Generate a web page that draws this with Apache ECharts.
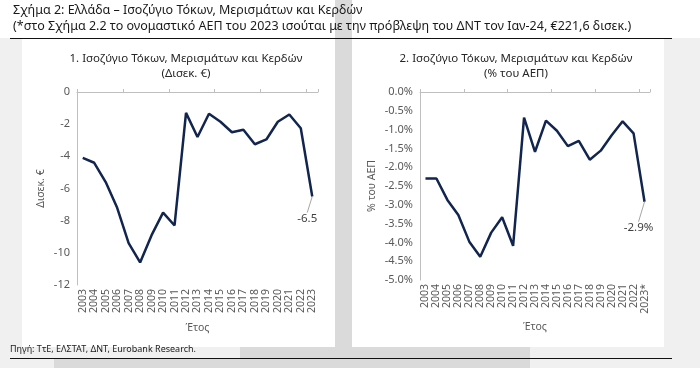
<!DOCTYPE html>
<html><head><meta charset="utf-8">
<script src="https://cdn.jsdelivr.net/npm/echarts@6/dist/echarts.min.js"></script>
<style>html,body{margin:0;padding:0;background:#f0f0f0}#c{width:700px;height:368px}</style>
</head><body><div id="c"></div>
<script>
const years = ['2003','2004','2005','2006','2007','2008','2009','2010','2011','2012','2013','2014','2015','2016','2017','2018','2019','2020','2021','2022','2023'];
const yearsPct = ['2003','2004','2005','2006','2007','2008','2009','2010','2011','2012','2013','2014','2015','2016','2017','2018','2019','2020','2021','2022','2023*'];
const balanceBn = [-4.1,-4.4,-5.6,-7.2,-9.4,-10.6,-8.9,-7.5,-8.3,-1.3,-2.8,-1.35,-1.85,-2.5,-2.35,-3.25,-2.95,-1.85,-1.4,-2.25,-6.5];
const balancePct = [-2.3,-2.3,-2.87,-3.27,-3.98,-4.38,-3.74,-3.33,-4.09,-0.68,-1.59,-0.76,-1.03,-1.44,-1.3,-1.8,-1.56,-1.15,-0.78,-1.1,-2.92];
const yTicksBn = {min:-12, max:0, interval:2};
const yTicksPct = {min:-5, max:0, interval:0.5};

const FONT = '"Noto Sans", sans-serif';
const NAVY = '#12254f';
const chart = echarts.init(document.getElementById('c'), null, {renderer:'canvas'});

function lastLabel(arr, text){
  return arr.map((v,i)=> i===arr.length-1 ? {value:v, label:{show:true, formatter:text}} : v);
}
function catAxes(gi, data){
  return [
    {type:'category', gridIndex:gi, position:'top', data:data, boundaryGap:true,
     axisLine:{show:true, lineStyle:{color:'#bfbfbf', width:1}},
     axisTick:{show:true, length:3, lineStyle:{color:'#bfbfbf'}},
     axisLabel:{show:false}, splitLine:{show:false}},
    {type:'category', gridIndex:gi, position:'bottom', data:data, boundaryGap:true,
     axisLine:{show:false}, axisTick:{show:false},
     axisLabel:{show:true, rotate:90, interval:0, margin:4, fontFamily:FONT, fontSize:10.5, color:'#595959'},
     name:'Έτος', nameLocation:'middle', nameGap:38,
     nameTextStyle:{fontFamily:FONT, fontSize:10.5, color:'#595959'}}
  ];
}
chart.setOption({
  animation:false,
  backgroundColor:'#f0f0f0',
  graphic:[
    {type:'rect', z:-10, shape:{x:0,y:0,width:700,height:38}, style:{fill:'#ffffff'}},
    {type:'rect', z:-10, shape:{x:22,y:38,width:313,height:309}, style:{fill:'#ffffff'}},
    {type:'rect', z:-10, shape:{x:352,y:38,width:312,height:309}, style:{fill:'#ffffff'}},
    {type:'rect', z:-10, shape:{x:335,y:0,width:17,height:358}, style:{fill:'#dadada'}},
    {type:'rect', z:-10, shape:{x:240,y:347,width:290,height:11}, style:{fill:'#dadada'}},
    {type:'rect', z:-10, shape:{x:54,y:358,width:476,height:10}, style:{fill:'#dadada'}},
    {type:'line', z:5, shape:{x1:10,y1:38.5,x2:672,y2:38.5}, style:{stroke:'#111',lineWidth:1}},
    {type:'line', z:5, shape:{x1:10,y1:358.5,x2:672,y2:358.5}, style:{stroke:'#111',lineWidth:1}},
    {type:'text', z:5, left:13, top:4, style:{text:'Σχήμα 2: Ελλάδα – Ισοζύγιο Τόκων, Μερισμάτων και Κερδών', font:'12.5px '+FONT, fill:'#1a1a1a'}},
    {type:'text', z:5, left:13, top:20, style:{text:'(*στο Σχήμα 2.2 το ονομαστικό ΑΕΠ του 2023 ισούται με την πρόβλεψη του ΔΝΤ τον Ιαν-24, €221,6 δισεκ.)', font:'12.5px '+FONT, fill:'#1a1a1a'}},
    {type:'text', z:5, left:10, top:345, style:{text:'Πηγή: ΤτΕ, ΕΛΣΤΑΤ, ΔΝΤ, Eurobank Research.', font:'9px '+FONT, fill:'#1a1a1a'}}
  ],
  title:[
    {text:'1. Ισοζύγιο Τόκων, Μερισμάτων και Κερδών\n(Δισεκ. €)', left:181, top:46, textAlign:'center',
     textStyle:{fontFamily:FONT, fontSize:11.5, fontWeight:'normal', color:'#262626', lineHeight:15}},
    {text:'2. Ισοζύγιο Τόκων, Μερισμάτων και Κερδών\n(% του ΑΕΠ)', left:511, top:46, textAlign:'center',
     textStyle:{fontFamily:FONT, fontSize:11.5, fontWeight:'normal', color:'#262626', lineHeight:15}}
  ],
  grid:[
    {left:77, right:382, top:92, bottom:83},
    {left:420, right:50, top:92, bottom:88}
  ],
  xAxis:[...catAxes(0, years), ...catAxes(1, yearsPct)],
  yAxis:[
    {type:'value', gridIndex:0, min:yTicksBn.min, max:yTicksBn.max, interval:yTicksBn.interval,
     axisLine:{show:true, lineStyle:{color:'#bfbfbf'}}, axisTick:{show:false}, splitLine:{show:false},
     axisLabel:{fontFamily:FONT, fontSize:11, color:'#595959', margin:7},
     name:'Δισεκ. €', nameLocation:'middle', nameGap:30, nameTextStyle:{fontFamily:FONT, fontSize:10.5, color:'#595959'}},
    {type:'value', gridIndex:1, min:yTicksPct.min, max:yTicksPct.max, interval:yTicksPct.interval,
     axisLine:{show:true, lineStyle:{color:'#bfbfbf'}}, axisTick:{show:false}, splitLine:{show:false},
     axisLabel:{fontFamily:FONT, fontSize:11, color:'#595959', margin:7, formatter:v=>v.toFixed(1)+'%'},
     name:'% του ΑΕΠ', nameLocation:'middle', nameGap:42, nameTextStyle:{fontFamily:FONT, fontSize:10.5, color:'#595959'}}
  ],
  series:[
    {type:'line', xAxisIndex:1, yAxisIndex:0, data:lastLabel(balanceBn,'-6.5'), symbol:'circle', symbolSize:0.01, showSymbol:true,
     lineStyle:{color:NAVY, width:2.5}, itemStyle:{color:NAVY},
     label:{position:'bottom', distance:4, fontFamily:FONT, fontSize:11.5, color:'#404040'},
     labelLayout:{dx:-5, dy:12}, labelLine:{show:true, lineStyle:{color:'#a6a6a6', width:1}}},
    {type:'line', xAxisIndex:3, yAxisIndex:1, data:lastLabel(balancePct,'-2.9%'), symbol:'circle', symbolSize:0.01, showSymbol:true,
     lineStyle:{color:NAVY, width:2.5}, itemStyle:{color:NAVY},
     label:{position:'bottom', distance:4, fontFamily:FONT, fontSize:11.5, color:'#404040'},
     labelLayout:{dx:-6, dy:16}, labelLine:{show:true, lineStyle:{color:'#a6a6a6', width:1}}}
  ]
});
</script></body></html>
